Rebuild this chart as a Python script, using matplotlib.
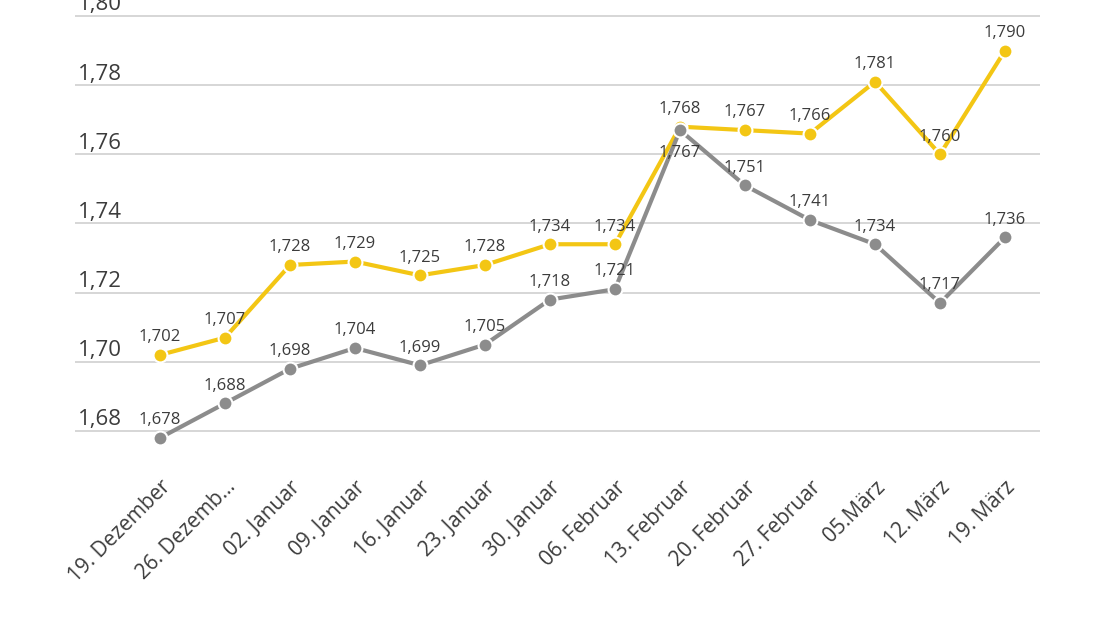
import matplotlib.pyplot as plt
import matplotlib.transforms as mtransforms

dates = ['19. Dezember', '26. Dezemb...', '02. Januar', '09. Januar', '16. Januar',
         '23. Januar', '30. Januar', '06. Februar', '13. Februar', '20. Februar',
         '27. Februar', '05.März', '12. März', '19. März']
yellow_vals = [1.702, 1.707, 1.728, 1.729, 1.725, 1.728, 1.734, 1.734, 1.768,
               1.767, 1.766, 1.781, 1.760, 1.790]
gray_vals = [1.678, 1.688, 1.698, 1.704, 1.699, 1.705, 1.718, 1.721, 1.767,
             1.751, 1.741, 1.734, 1.717, 1.736]
yticks = [1.68, 1.70, 1.72, 1.74, 1.76, 1.78, 1.80]

YELLOW = '#F3C614'
GRAY = '#8C8C8C'
TEXT = '#3C3C3C'


def fmt(v, nd):
    return f'{v:.{nd}f}'.replace('.', ',')


def main():
    plt.rcParams['font.family'] = ['Open Sans', 'DejaVu Sans']
    fig = plt.figure(figsize=(11, 6.18), dpi=100)
    ax = fig.add_axes([75 / 1100, 1 - 460 / 618, 965 / 1100, 457 / 618])

    x = list(range(len(dates)))
    ax.set_xlim(-85 / 65, 880 / 65)
    ax.set_ylim(1.68 - 29 / 3458, 1.80 + 13 / 3458)

    for t in yticks:
        ax.axhline(t, color='#CFCFCF', lw=1.2, zorder=1)
        ax.text(-1.26, t + 0.0016, fmt(t, 2), fontsize=16, color=TEXT,
                ha='left', va='baseline', clip_on=False)

    ax.plot(x, yellow_vals, color=YELLOW, lw=3, marker='o', ms=10,
            mfc=YELLOW, mec='white', mew=1.5, zorder=3)
    ax.plot(x, gray_vals, color=GRAY, lw=3, marker='o', ms=10,
            mfc=GRAY, mec='white', mew=1.5, zorder=4)

    for i, v in enumerate(yellow_vals):
        ax.annotate(fmt(v, 3), (i, v), xytext=(0, 7), textcoords='offset points',
                    ha='center', va='bottom', fontsize=12, color=TEXT, zorder=5)
    for i, v in enumerate(gray_vals):
        dy = -22 if i == 8 else 7
        ax.annotate(fmt(v, 3), (i, v), xytext=(0, dy), textcoords='offset points',
                    ha='center', va='bottom', fontsize=12, color=TEXT, zorder=5)

    ax.set_xticks(x)
    ax.set_xticklabels(dates, rotation=45, ha='right', rotation_mode='anchor',
                       fontsize=15, color=TEXT)
    offset = mtransforms.ScaledTranslation(8 / 100, 0, fig.dpi_scale_trans)
    for lab in ax.get_xticklabels():
        lab.set_transform(lab.get_transform() + offset)
    ax.tick_params(axis='x', length=0, pad=12)
    ax.set_yticks([])
    for s in ax.spines.values():
        s.set_visible(False)

    fig.savefig('out.png', dpi=100, facecolor='white')


if __name__ == '__main__':
    main()
